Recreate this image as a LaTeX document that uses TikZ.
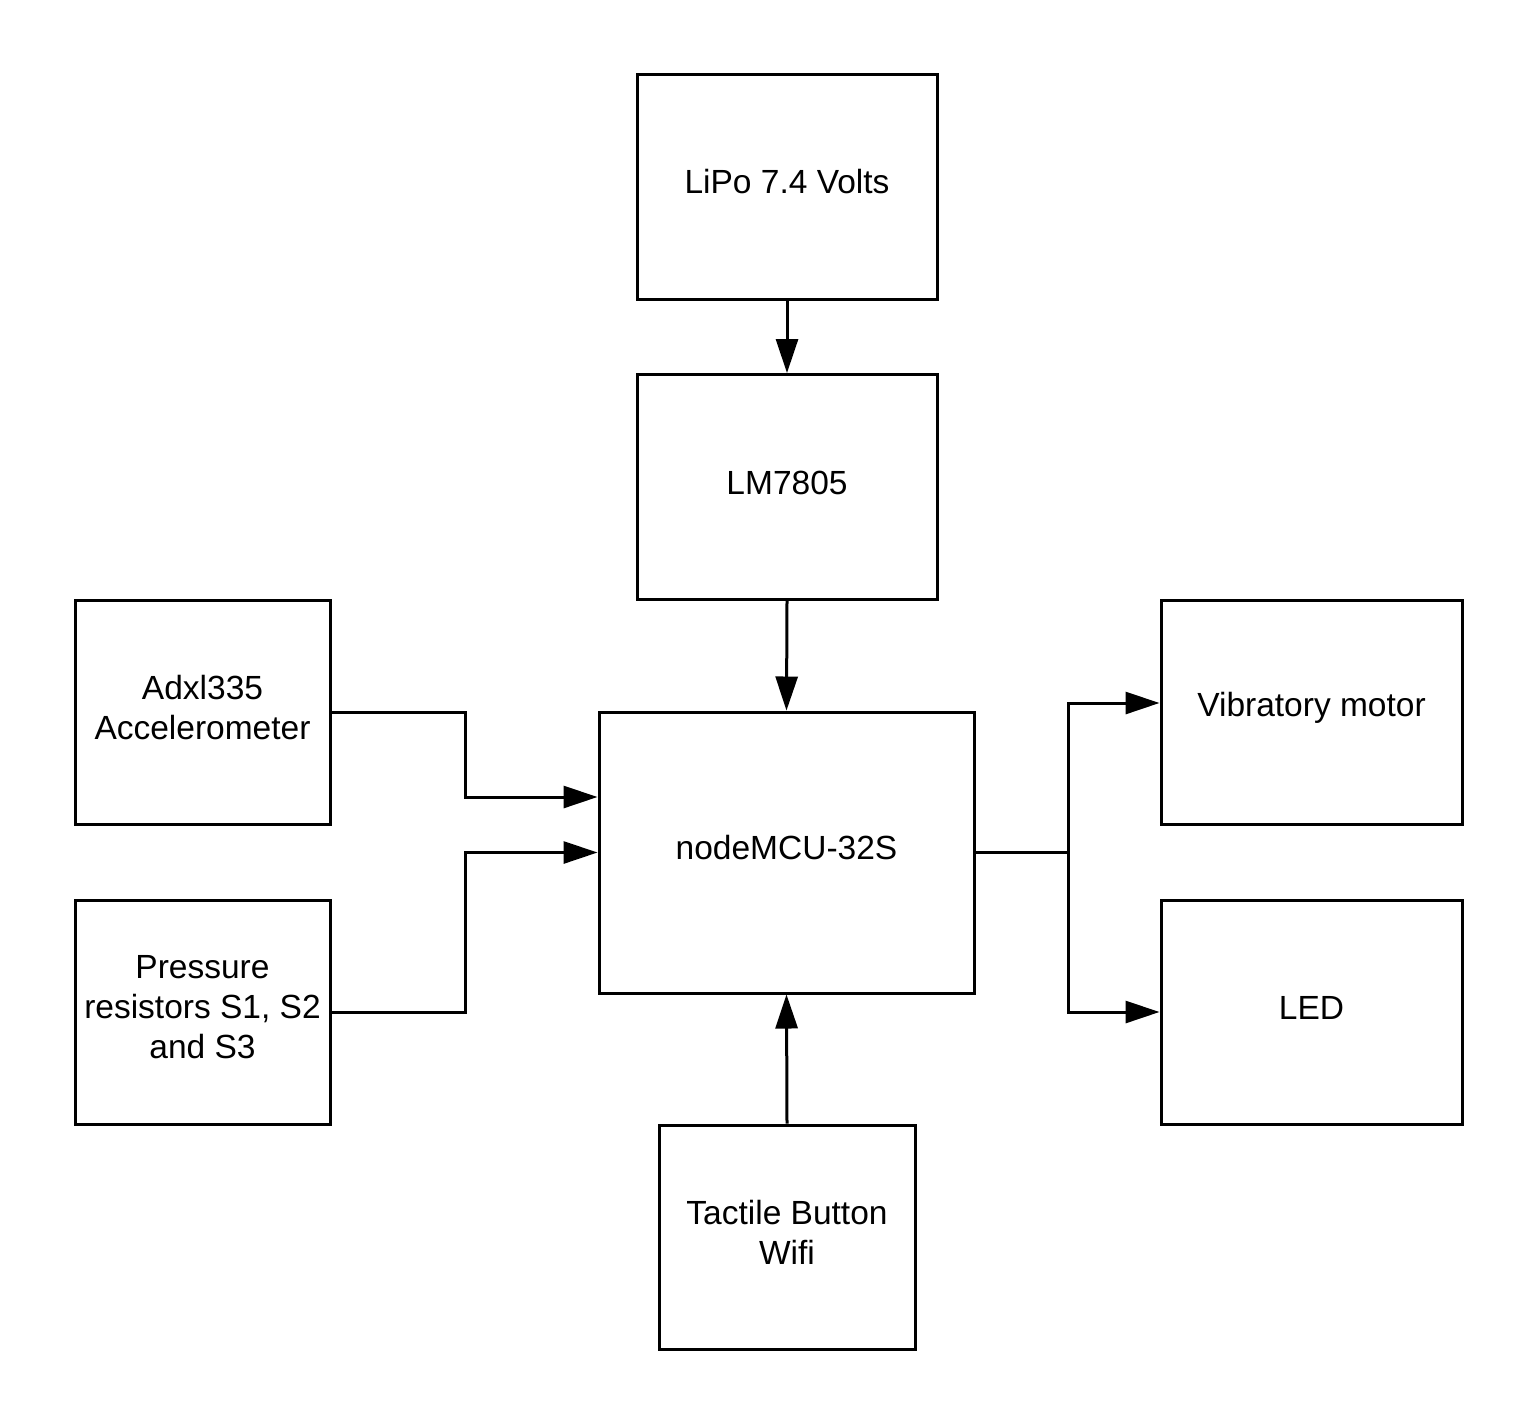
\documentclass[tikz,border=0pt]{standalone}
\usepackage{fontspec}
\setmainfont{Liberation Sans}
\usetikzlibrary{arrows.meta}
\begin{document}
\begin{tikzpicture}[x=1pt,y=-1pt,
  blk/.style={draw=black, line width=3pt, inner sep=0pt},
  txt/.style={align=center, inner sep=0pt, yshift=4.5pt,
    font=\fontsize{33.5}{40}\selectfont},
  arr/.style={line width=3pt, -{Triangle[length=34pt,width=22pt]}},
  ln/.style={line width=3pt}]
\useasboundingbox (0,0) rectangle (1538,1425);
\node[blk, minimum width=300pt, minimum height=225pt, label={[txt]center:LiPo 7.4 Volts}] (lipo) at (787,186.5) {};
\node[blk, minimum width=300pt, minimum height=225pt, label={[txt]center:LM7805}] (lm) at (787,487) {};
\node[blk, minimum width=375pt, minimum height=281pt, label={[txt]center:nodeMCU-32S}] (mcu) at (786.5,852.5) {};
\node[blk, minimum width=255pt, minimum height=224pt, label={[txt]center:Adxl335\\Accelerometer}] (adxl) at (202.5,712) {};
\node[blk, minimum width=255pt, minimum height=224pt, label={[txt]center:Pressure\\resistors S1, S2\\and S3}] (press) at (202.5,1012) {};
\node[blk, minimum width=301pt, minimum height=224pt, label={[txt]center:Vibratory motor}] (vib) at (1311.5,712) {};
\node[blk, minimum width=301pt, minimum height=224pt, label={[txt]center:LED}] (led) at (1311.5,1012) {};
\node[blk, minimum width=256pt, minimum height=224pt, label={[txt]center:Tactile Button\\Wifi}] (tact) at (787,1237) {};
\coordinate (jr) at (1068,852.5);
\draw[arr] (lipo.south) -- (lm.north);
\draw[arr] (lm.south) -- (mcu.north);
\draw[arr] (tact.north) -- (mcu.south);
\draw[arr] (adxl.east) -- (465,712) -- (465,797) -- ([yshift=55.5pt]mcu.west);
\draw[arr] (press.east) -- (465,1012) -- (465,852.5) -- (mcu.west);
\draw[ln] (mcu.east) -- (jr);
\draw[arr] (jr) |- ([yshift=9pt]vib.west);
\draw[arr] (jr) |- (led.west);
\end{tikzpicture}
\end{document}
